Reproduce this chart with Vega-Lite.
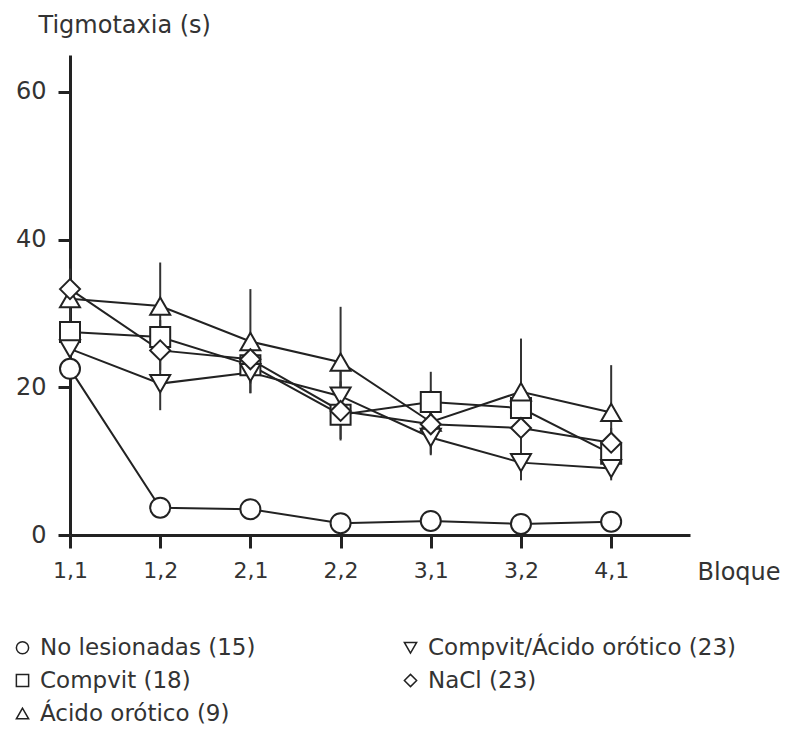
{
  "$schema": "https://vega.github.io/schema/vega-lite/v6.json",
  "width": 620,
  "height": 480,
  "autosize": "none",
  "padding": {"left": 70, "top": 55, "right": 100, "bottom": 194},
  "background": "white",
  "config": {
    "view": {"stroke": null},
    "font": "DejaVu Sans"
  },
  "data": {
    "values": [
      {"grupo": "No lesionadas (15)", "bloque": "1,1", "y": 22.5, "lo": 22.0, "hi": 23.0},
      {"grupo": "No lesionadas (15)", "bloque": "1,2", "y": 3.7, "lo": 3.2, "hi": 4.2},
      {"grupo": "No lesionadas (15)", "bloque": "2,1", "y": 3.5, "lo": 3.0, "hi": 4.0},
      {"grupo": "No lesionadas (15)", "bloque": "2,2", "y": 1.6, "lo": 1.2, "hi": 2.0},
      {"grupo": "No lesionadas (15)", "bloque": "3,1", "y": 1.9, "lo": 1.5, "hi": 2.3},
      {"grupo": "No lesionadas (15)", "bloque": "3,2", "y": 1.5, "lo": 1.1, "hi": 1.9},
      {"grupo": "No lesionadas (15)", "bloque": "4,1", "y": 1.8, "lo": 1.4, "hi": 2.2},

      {"grupo": "Compvit (18)", "bloque": "1,1", "y": 27.5, "lo": 25.0, "hi": 30.0},
      {"grupo": "Compvit (18)", "bloque": "1,2", "y": 26.8, "lo": 24.5, "hi": 29.1},
      {"grupo": "Compvit (18)", "bloque": "2,1", "y": 23.0, "lo": 20.5, "hi": 25.5},
      {"grupo": "Compvit (18)", "bloque": "2,2", "y": 16.3, "lo": 13.0, "hi": 19.6},
      {"grupo": "Compvit (18)", "bloque": "3,1", "y": 18.0, "lo": 14.0, "hi": 22.1},
      {"grupo": "Compvit (18)", "bloque": "3,2", "y": 17.2, "lo": 13.5, "hi": 20.9},
      {"grupo": "Compvit (18)", "bloque": "4,1", "y": 11.0, "lo": 8.5, "hi": 13.5},

      {"grupo": "Ácido orótico (9)", "bloque": "1,1", "y": 32.0, "lo": 28.0, "hi": 36.0},
      {"grupo": "Ácido orótico (9)", "bloque": "1,2", "y": 31.0, "lo": 25.0, "hi": 36.9},
      {"grupo": "Ácido orótico (9)", "bloque": "2,1", "y": 26.2, "lo": 19.2, "hi": 33.3},
      {"grupo": "Ácido orótico (9)", "bloque": "2,2", "y": 23.4, "lo": 16.0, "hi": 30.9},
      {"grupo": "Ácido orótico (9)", "bloque": "3,1", "y": 15.3, "lo": 11.0, "hi": 19.6},
      {"grupo": "Ácido orótico (9)", "bloque": "3,2", "y": 19.4, "lo": 12.2, "hi": 26.6},
      {"grupo": "Ácido orótico (9)", "bloque": "4,1", "y": 16.6, "lo": 10.2, "hi": 23.0},

      {"grupo": "Compvit/Ácido orótico (23)", "bloque": "1,1", "y": 25.2, "lo": 22.5, "hi": 27.9},
      {"grupo": "Compvit/Ácido orótico (23)", "bloque": "1,2", "y": 20.5, "lo": 16.9, "hi": 24.1},
      {"grupo": "Compvit/Ácido orótico (23)", "bloque": "2,1", "y": 22.0, "lo": 19.2, "hi": 24.8},
      {"grupo": "Compvit/Ácido orótico (23)", "bloque": "2,2", "y": 18.8, "lo": 15.5, "hi": 22.1},
      {"grupo": "Compvit/Ácido orótico (23)", "bloque": "3,1", "y": 13.2, "lo": 10.8, "hi": 15.6},
      {"grupo": "Compvit/Ácido orótico (23)", "bloque": "3,2", "y": 9.8, "lo": 7.4, "hi": 12.2},
      {"grupo": "Compvit/Ácido orótico (23)", "bloque": "4,1", "y": 9.0, "lo": 7.4, "hi": 10.6},

      {"grupo": "NaCl (23)", "bloque": "1,1", "y": 33.3, "lo": 30.5, "hi": 36.1},
      {"grupo": "NaCl (23)", "bloque": "1,2", "y": 25.0, "lo": 22.3, "hi": 27.7},
      {"grupo": "NaCl (23)", "bloque": "2,1", "y": 23.8, "lo": 21.0, "hi": 26.6},
      {"grupo": "NaCl (23)", "bloque": "2,2", "y": 16.8, "lo": 12.8, "hi": 20.8},
      {"grupo": "NaCl (23)", "bloque": "3,1", "y": 15.0, "lo": 12.5, "hi": 17.5},
      {"grupo": "NaCl (23)", "bloque": "3,2", "y": 14.5, "lo": 12.0, "hi": 17.0},
      {"grupo": "NaCl (23)", "bloque": "4,1", "y": 12.5, "lo": 10.5, "hi": 14.5}
    ]
  },
  "encoding": {
    "x": {
      "field": "bloque",
      "type": "ordinal",
      "scale": {"type": "point", "padding": 0.437, "align": 0},
      "axis": {
        "title": "Bloque",
        "titleAngle": 0,
        "titleX": 627,
        "titleY": 37,
        "titleAlign": "left",
        "titleBaseline": "middle",
        "titleFontSize": 24,
        "titleFontWeight": "normal",
        "titleColor": "#333",
        "labelAngle": 0,
        "labelFontSize": 22,
        "labelColor": "#333",
        "labelPadding": 12,
        "tickSize": 13,
        "tickWidth": 3,
        "tickColor": "#222",
        "domainWidth": 3,
        "domainColor": "#222",
        "grid": false
      }
    }
  },
  "layer": [
    {
      "mark": {"type": "rule", "stroke": "#333", "strokeWidth": 2},
      "encoding": {
        "y": {"field": "lo", "type": "quantitative"},
        "y2": {"field": "hi"}
      }
    },
    {
      "mark": {"type": "line", "stroke": "#222", "strokeWidth": 2},
      "encoding": {
        "y": {"field": "y", "type": "quantitative"},
        "detail": {"field": "grupo"}
      }
    },
    {
      "mark": {"type": "point", "filled": false, "color": "#222", "fill": "white", "strokeWidth": 2, "size": 400, "opacity": 1},
      "encoding": {
        "y": {
          "field": "y",
          "type": "quantitative",
          "scale": {"domain": [0, 65], "nice": false},
          "axis": {
            "values": [0, 20, 40, 60],
            "title": "Tigmotaxia (s)",
            "titleAngle": 0,
            "titleX": -32,
            "titleY": -23,
            "titleAlign": "left",
            "titleBaseline": "alphabetic",
            "titleFontSize": 24,
            "titleFontWeight": "normal",
            "titleColor": "#333",
            "labelFontSize": 24,
            "labelColor": "#333",
            "labelPadding": 12,
            "tickSize": 12,
            "tickWidth": 3,
            "tickColor": "#222",
            "domainWidth": 3,
            "domainColor": "#222",
            "grid": false
          }
        },
        "shape": {
          "field": "grupo",
          "type": "nominal",
          "scale": {
            "domain": ["No lesionadas (15)", "Compvit/Ácido orótico (23)", "Compvit (18)", "NaCl (23)", "Ácido orótico (9)"],
            "range": ["circle", "triangle-down", "square", "diamond", "triangle-up"]
          },
          "legend": {
            "title": null,
            "orient": "none",
            "legendX": -59,
            "legendY": 581,
            "padding": 0,
            "direction": "horizontal",
            "columns": 2,
            "columnPadding": 143,
            "rowPadding": 9,
            "symbolSize": 150,
            "symbolStrokeWidth": 1.5,
            "labelFontSize": 23,
            "labelColor": "#333",
            "labelLimit": 400,
            "labelOffset": 6
          }
        }
      }
    }
  ]
}
